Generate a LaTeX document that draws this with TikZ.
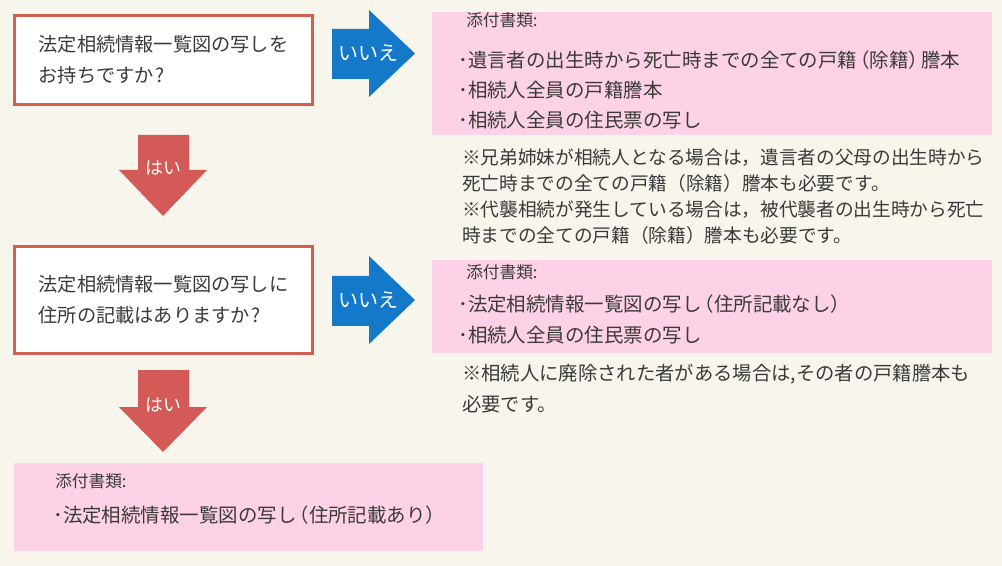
\documentclass[tikz,border=0pt]{standalone}
\usepackage{fontspec}
\setmainfont{Noto Sans CJK JP}
\definecolor{bgc}{HTML}{F8F5EC}
\definecolor{boxred}{HTML}{D0604F}
\definecolor{arrred}{HTML}{D35A57}
\definecolor{arrblue}{HTML}{1479C9}
\definecolor{pinkc}{HTML}{FDD2E6}
\definecolor{txt}{HTML}{3A3A3A}
\newcommand\lpar{\kern-0.36em（}
\newcommand\rpar{）\kern-0.36em}
\begin{document}
\begin{tikzpicture}[x=0.75pt,y=-0.75pt,
  qbox/.style={draw=boxred, line width=2.25pt, fill=white, align=left, text=txt,
    font=\fontsize{14.4pt}{23pt}\selectfont, inner sep=0pt},
  docbox/.style={fill=pinkc, draw=none, anchor=north west, inner sep=0pt},
  item/.style={anchor=base west, inner sep=0pt, text=txt, font=\fontsize{14.6pt}{17pt}\selectfont},
  head/.style={anchor=base west, inner sep=0pt, text=txt, font=\fontsize{12.5pt}{15pt}\selectfont},
  note/.style={anchor=base west, inner sep=0pt, text=txt, font=\fontsize{14pt}{17pt}\selectfont},
  alabel/.style={inner sep=0pt, text=white, font=\fontsize{15pt}{17pt}\selectfont},
  blockblue/.style={fill=arrblue},
  blockred/.style={fill=arrred}]
\useasboundingbox (0,0) rectangle (1002,566);
\fill[bgc] (0,0) rectangle (1002,566);

% question boxes
\node[qbox, minimum width={298*0.75pt}, minimum height={89*0.75pt}] (q1) at (163.5,60)
  {法定相続情報一覧図の写しを\\お持ちですか\kern1pt?};
\node[qbox, minimum width={298*0.75pt}, minimum height={107*0.75pt}] (q2) at (163.5,300)
  {法定相続情報一覧図の写しに\\住所の記載はありますか\kern1pt?};

% document boxes
\node[docbox, minimum width={560*0.75pt}, minimum height={123*0.75pt}] (d1) at (432,12) {};
\node[docbox, minimum width={560*0.75pt}, minimum height={93*0.75pt}] (d2) at (432,260) {};
\node[docbox, minimum width={469*0.75pt}, minimum height={88*0.75pt}] (d3) at (14,463) {};

% block arrows
\fill[blockblue] (332,29) -- (369,29) -- (369,10) -- (415,53.5) -- (369,97) -- (369,79) -- (332,79) -- cycle;
\node[alabel] (no1) at (368,53) {いいえ};
\fill[blockblue] (332,276) -- (369,276) -- (369,256) -- (415,300) -- (369,344) -- (369,326) -- (332,326) -- cycle;
\node[alabel] (no2) at (368,300) {いいえ};
\fill[blockred] (138,135) -- (189,135) -- (189,170) -- (207,170) -- (163,216) -- (119,170) -- (138,170) -- cycle;
\node[alabel, font=\fontsize{13.4pt}{16pt}\selectfont] (yes1) at (163,168) {はい};
\fill[blockred] (138,370) -- (189,370) -- (189,407) -- (207,407) -- (163,452) -- (119,407) -- (138,407) -- cycle;
\node[alabel, font=\fontsize{13.4pt}{16pt}\selectfont] (yes2) at (163,405) {はい};

% texts of box 1
\node[head] (h1) at (466,27) {添付書類:};
\node[item] (i1a) at (458,68) {･遺言者の出生時から死亡時までの全ての戸籍\lpar 除籍\rpar 謄本};
\node[item] (i1b) at (458,98) {･相続人全員の戸籍謄本};
\node[item] (i1c) at (458,128) {･相続人全員の住民票の写し};
\node[note] (n1a) at (462,165) {※兄弟姉妹が相続人となる場合は，遺言者の父母の出生時から};
\node[note] (n1b) at (462,191) {死亡時までの全ての戸籍（除籍）謄本も必要です。};
\node[note] (n1c) at (462,217) {※代襲相続が発生している場合は，被代襲者の出生時から死亡};
\node[note] (n1d) at (462,243) {時までの全ての戸籍（除籍）謄本も必要です。};

% texts of box 2
\node[head] (h2) at (466,279) {添付書類:};
\node[item] (i2a) at (458,312) {･法定相続情報一覧図の写し\lpar 住所記載なし\rpar};
\node[item] (i2b) at (458,343) {･相続人全員の住民票の写し};
\node[note, font=\fontsize{14.5pt}{17pt}\selectfont] (n2a) at (462,380) {※相続人に廃除された者がある場合は,その者の戸籍謄本も};
\node[note, font=\fontsize{14.5pt}{17pt}\selectfont] (n2b) at (462,411) {必要です。};

% texts of box 3
\node[head] (h3) at (55,487) {添付書類:};
\node[item] (i3a) at (53,522) {･法定相続情報一覧図の写し\lpar 住所記載あり\rpar};
\end{tikzpicture}
\end{document}
